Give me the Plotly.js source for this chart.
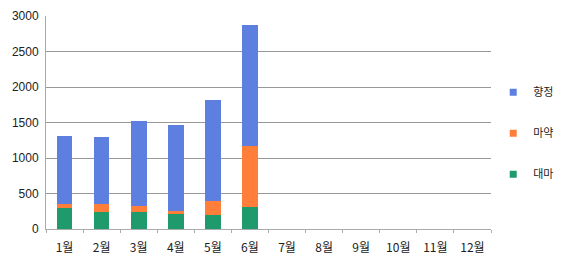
<!DOCTYPE html>
<html><head><meta charset="utf-8">
<script src="https://cdn.plot.ly/plotly-3.0.1.min.js"></script>
<style>html,body{margin:0;padding:0;background:#fff}</style>
</head><body><div id="chart" style="width:571px;height:268px"></div>
<script>
var months = ['1월','2월','3월','4월','5월','6월','7월','8월','9월','10월','11월','12월'];
var daema = [295, 235, 235, 207, 197, 310, null, null, null, null, null, null];
var mayak = [57, 117, 94, 51, 197, 864, null, null, null, null, null, null];
var hyangjeong = [963, 939, 1192, 1202, 1418, 1694, null, null, null, null, null, null];
var names = ['대마','마약','향정'];
var colors = ['#1f9a6c','#ff7f3a','#5c7fe0'];
var series = [daema, mayak, hyangjeong];
var traces = series.map(function(s,i){
  return {type:'bar', x:months, y:s, name:names[i], showlegend:false,
    marker:{color:colors[i], line:{width:0}}, width:0.42, hoverinfo:'x+y+name'};
});
[2,1,0].forEach(function(i, k){
  traces.push({type:'scatter', mode:'markers', x:[null], y:[null], name:names[i],
    legendgroup:'g'+k, legendrank:k+1,
    marker:{symbol:'square', size:7, color:colors[i]}, hoverinfo:'skip'});
});
var layout = {
  width:571, height:268, barmode:'stack',
  margin:{l:46, r:54, t:16, b:39},
  paper_bgcolor:'#fff', plot_bgcolor:'#fff',
  font:{family:'"Noto Sans CJK KR", "Noto Sans", sans-serif', size:11, color:'#222'},
  xaxis:{type:'category', showline:true, linecolor:'#aaa', ticks:'outside', tickson:'boundaries',
    ticklen:3, tickcolor:'#aaa', showgrid:false, tickfont:{size:12, color:'#222'}, ticklabelstandoff:8, fixedrange:true},
  yaxis:{range:[0,3000], dtick:500, showline:true, linecolor:'#aaa', gridcolor:'#999', gridwidth:1,
    zeroline:false, tickfont:{family:'"Liberation Sans", Arial, sans-serif', size:12, color:'#222'}, ticks:'', ticklabelstandoff:4, fixedrange:true},
  legend:{x:1.005, xanchor:'left', y:0.45, yanchor:'middle', traceorder:'grouped', tracegroupgap:22,
    font:{size:11, color:'#222'}, itemwidth:30, bgcolor:'rgba(0,0,0,0)'},
  showlegend:true
};
Plotly.newPlot('chart', traces, layout, {displayModeBar:false, staticPlot:true});
</script></body></html>
